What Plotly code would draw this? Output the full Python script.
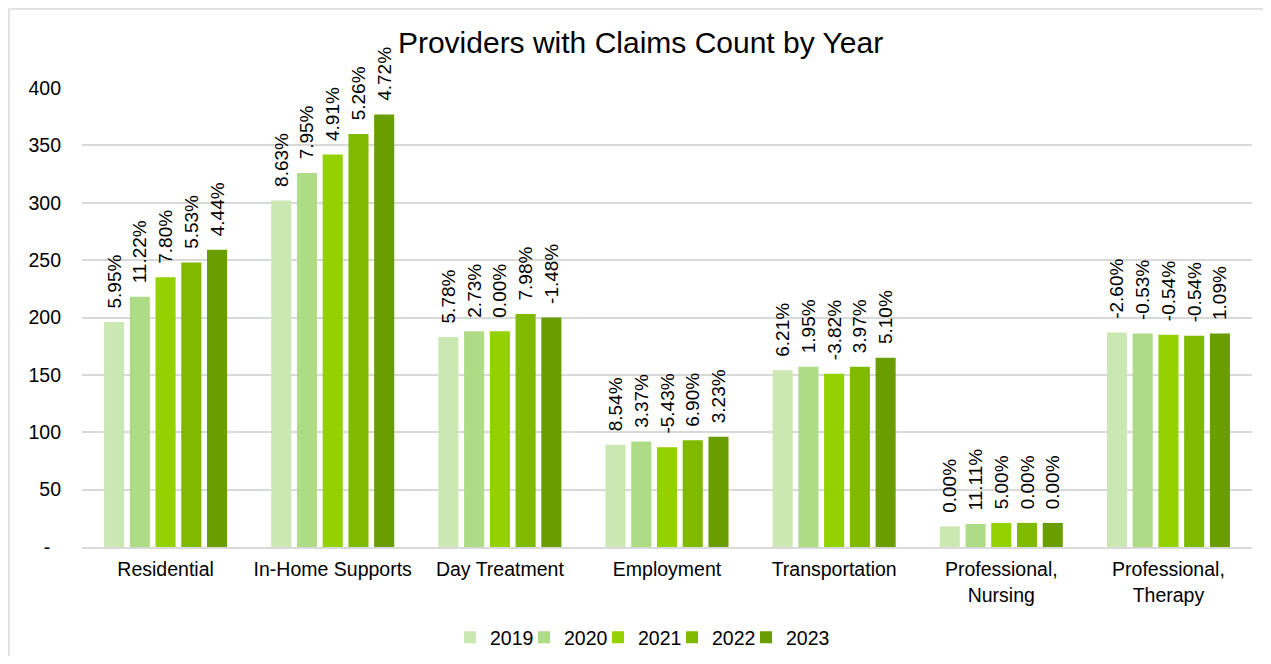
import plotly.graph_objects as go

categories = ["Residential", "In-Home Supports", "Day Treatment", "Employment",
              "Transportation", "Professional,<br>Nursing", "Professional,<br>Therapy"]
years = ["2019", "2020", "2021", "2022", "2023"]

values = {
    "2019": [196, 302, 183, 89, 154, 18, 187],
    "2020": [218, 326, 188, 92, 157, 20, 186],
    "2021": [235, 342, 188, 87, 151, 21, 185],
    "2022": [248, 360, 203, 93, 157, 21, 184],
    "2023": [259, 377, 200, 96, 165, 21, 186],
}
labels = {
    "2019": ["5.95%", "8.63%", "5.78%", "8.54%", "6.21%", "0.00%", "-2.60%"],
    "2020": ["11.22%", "7.95%", "2.73%", "3.37%", "1.95%", "11.11%", "-0.53%"],
    "2021": ["7.80%", "4.91%", "0.00%", "-5.43%", "-3.82%", "5.00%", "-0.54%"],
    "2022": ["5.53%", "5.26%", "7.98%", "6.90%", "3.97%", "0.00%", "-0.54%"],
    "2023": ["4.44%", "4.72%", "-1.48%", "3.23%", "5.10%", "0.00%", "1.09%"],
}
colors = {
    "2019": "#CCE8B2",
    "2020": "#AEDB86",
    "2021": "#93D100",
    "2022": "#7FBA00",
    "2023": "#6A9E00",
}
y_tickvals = [0, 50, 100, 150, 200, 250, 300, 350, 400]
y_ticktext = ["-\u00a0\u00a0", "50", "100", "150", "200", "250", "300", "350", "400"]

FONT = "Liberation Sans, Arial, sans-serif"
PAD = "\u00a0\u00a0"
legend_ids = ["legend", "legend2", "legend3", "legend4", "legend5"]

fig = go.Figure()
for y, lg in zip(years, legend_ids):
    fig.add_trace(go.Bar(
        name=y, x=categories, y=values[y], text=[PAD + t for t in labels[y]],
        textposition="outside", textangle=-90, cliponaxis=False,
        constraintext="none", legend=lg,
        textfont=dict(size=19, color="#000000", family=FONT),
        marker=dict(color=colors[y], line=dict(width=0)),
    ))

# page body adds an 8px margin; figure sized to fit inside it
fig.update_layout(
    width=1255, height=648,
    barmode="group", bargap=0.23, bargroupgap=0.22,
    paper_bgcolor="white", plot_bgcolor="white",
    margin=dict(l=74, r=11, t=80, b=109, autoexpand=False),
    font=dict(family=FONT, size=19.5, color="#000000"),
    title=dict(text="Providers with Claims Count by Year", x=0.504, xanchor="center",
               xref="container", y=0.9475, yanchor="middle", yref="container",
               font=dict(size=30, color="#000000")),
    showlegend=True,
)
# one small legend per year so the entries sit at the reference spacing
legend_left_px = [450, 524, 598, 672, 746]  # screen x of each legend box
for lg, px in zip(legend_ids, legend_left_px):
    fig.update_layout({lg: dict(orientation="h", x=(px - 82) / 1170, xanchor="left",
                                y=-0.155, yanchor="top", font=dict(size=19.5),
                                itemwidth=30, bgcolor="rgba(0,0,0,0)")})

fig.update_yaxes(range=[0, 400], tickvals=y_tickvals, ticktext=y_ticktext,
                 showgrid=True, gridcolor="#D9D9D9", gridwidth=1.5, zeroline=False,
                 showline=False, ticks="", ticklabelstandoff=20,
                 tickfont=dict(size=19.5, color="#000000"))
fig.update_xaxes(showline=True, linecolor="#D9D9D9", linewidth=1.5, ticks="",
                 ticklabelstandoff=4,
                 tickfont=dict(size=19.5, color="#000000"))
fig.add_shape(type="rect", xref="paper", yref="paper",
              x0=(1 - 74) / 1170, x1=1.05, y0=-0.4, y1=(539 - 1) / 459,
              line=dict(color="#D9D9D9", width=1.5), fillcolor="rgba(0,0,0,0)", layer="below")

fig.write_html("out.html")
